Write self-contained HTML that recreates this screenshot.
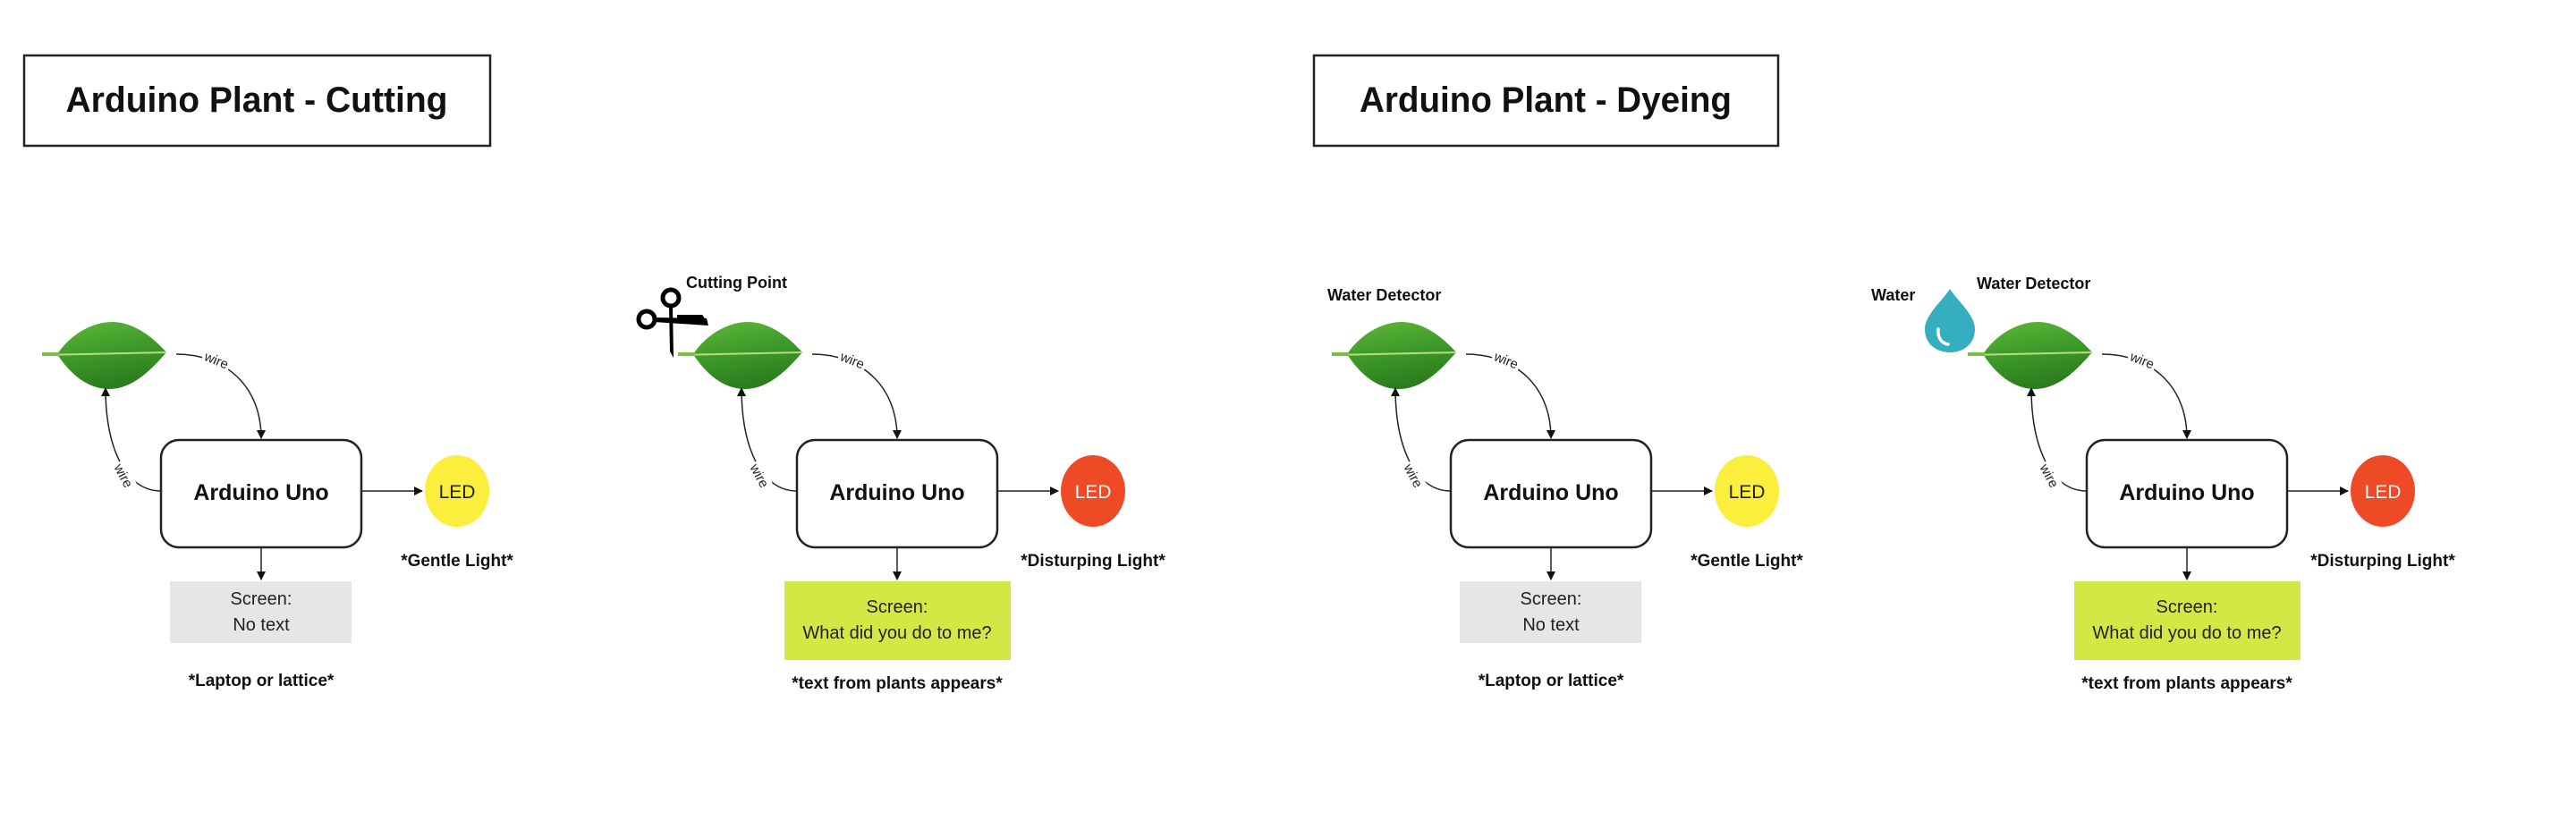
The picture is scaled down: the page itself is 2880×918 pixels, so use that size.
<!DOCTYPE html>
<html><head><meta charset="utf-8"><style>
html,body{margin:0;padding:0;background:#fff;}
svg{display:block;font-family:"Liberation Sans",sans-serif;}
</style></head><body>
<svg width="2880" height="918" viewBox="0 0 2880 918" xmlns="http://www.w3.org/2000/svg">
<defs>
<marker id="ar" markerWidth="10" markerHeight="10" refX="9" refY="5" orient="auto" markerUnits="userSpaceOnUse">
<path d="M0,0 L10,5 L0,10 Z" fill="#111"/></marker>
<linearGradient id="lg" x1="0" y1="0" x2="0.3" y2="1">
<stop offset="0" stop-color="#5fb83a"/><stop offset="0.5" stop-color="#3f9b2a"/><stop offset="1" stop-color="#2c7d1e"/></linearGradient>
<g id="leaf">
<path d="M64,396 C80,372 105,360 125,360 C150,360 172,378 186,394 C172,410 150,435 122,435 C98,435 78,418 64,396 Z" fill="url(#lg)"/>
<path d="M47,397 L186,394" stroke="#b8dc80" stroke-width="2" fill="none"/>
<path d="M47,396 L66,396" stroke="#7cbf45" stroke-width="4"/>
</g>
<g id="base">
<use href="#leaf"/>
<path d="M197,396 C250,396 292,430 292,490" fill="none" stroke="#222" stroke-width="1.5" marker-end="url(#ar)"/>
<rect x="226" y="394" width="32" height="18" fill="#fff" transform="rotate(22 242 403)"/>
<text x="242" y="408" font-size="15" text-anchor="middle" fill="#222" transform="rotate(22 242 403)">wire</text>
<path d="M180,549 C140,549 118,500 118,434" fill="none" stroke="#222" stroke-width="1.5" marker-end="url(#ar)"/>
<rect x="122" y="523" width="32" height="18" fill="#fff" transform="rotate(62 138 532)"/>
<text x="138" y="537" font-size="15" text-anchor="middle" fill="#222" transform="rotate(62 138 532)">wire</text>
<rect x="180" y="492" width="224" height="120" rx="20" fill="#fff" stroke="#222" stroke-width="2.5"/>
<text x="292" y="559" font-size="25" font-weight="bold" text-anchor="middle" fill="#111">Arduino Uno</text>
<path d="M404,549 L472,549" stroke="#222" stroke-width="1.5" marker-end="url(#ar)"/>
<path d="M292,612 L292,648" stroke="#222" stroke-width="1.5" marker-end="url(#ar)"/>
</g>
<g id="g1">
<ellipse cx="511" cy="549" rx="36" ry="40" fill="#fbee3c"/>
<text x="511" y="557" font-size="21" text-anchor="middle" fill="#222">LED</text>
<text x="511" y="633" font-size="19" font-weight="bold" text-anchor="middle" fill="#111">*Gentle Light*</text>
<rect x="190" y="650" width="203" height="69" fill="#e6e6e6"/>
<text x="292" y="676" font-size="20" text-anchor="middle" fill="#222">Screen:</text>
<text x="292" y="705" font-size="20" text-anchor="middle" fill="#222">No text</text>
<text x="292" y="767" font-size="19" font-weight="bold" text-anchor="middle" fill="#111">*Laptop or lattice*</text>
</g>
<g id="g2">
<ellipse cx="511" cy="549" rx="36" ry="40" fill="#ee4a26"/>
<text x="511" y="557" font-size="21" text-anchor="middle" fill="#fff">LED</text>
<text x="511" y="633" font-size="19" font-weight="bold" text-anchor="middle" fill="#111">*Disturping Light*</text>
<rect x="166" y="650" width="253" height="88" fill="#d2e845"/>
<text x="292" y="685" font-size="20" text-anchor="middle" fill="#222">Screen:</text>
<text x="292" y="714" font-size="20" text-anchor="middle" fill="#222">What did you do to me?</text>
<text x="292" y="770" font-size="19" font-weight="bold" text-anchor="middle" fill="#111">*text from plants appears*</text>
</g>
</defs>

<rect x="27" y="62" width="521" height="101" fill="#fff" stroke="#222" stroke-width="2.5"/>
<text x="287" y="125" font-size="40" font-weight="bold" text-anchor="middle" fill="#111" textLength="427" lengthAdjust="spacingAndGlyphs">Arduino Plant - Cutting</text>
<rect x="1469" y="62" width="519" height="101" fill="#fff" stroke="#222" stroke-width="2.5"/>
<text x="1728" y="125" font-size="40" font-weight="bold" text-anchor="middle" fill="#111" textLength="416" lengthAdjust="spacingAndGlyphs">Arduino Plant - Dyeing</text>

<!-- group 1 -->
<use href="#base"/><use href="#g1"/>

<!-- group 2 -->
<g transform="translate(711,0)">
<use href="#base"/><use href="#g2"/>
<text x="56" y="322" font-size="18" font-weight="bold" fill="#111">Cutting Point</text>
<!-- scissors -->
<circle cx="12" cy="357" r="9" fill="none" stroke="#000" stroke-width="5"/>
<circle cx="39" cy="333" r="9" fill="none" stroke="#000" stroke-width="5"/>
<path d="M37,342 L41,342 L42,400 L38,393 Z" fill="#000"/>
<path d="M20,355 L79,356 L81,364 L20,360 Z" fill="#000"/>
<path d="M46,352 L74,352 L80,360 L46,360 Z" fill="#000"/>
</g>

<!-- group 3 -->
<g transform="translate(1442,0)">
<use href="#base"/><use href="#g1"/>
<text x="42" y="336" font-size="18" font-weight="bold" fill="#111">Water Detector</text>
</g>

<!-- group 4 -->
<g transform="translate(2153,0)">
<use href="#base"/><use href="#g2"/>
<text x="-61" y="336" font-size="18" font-weight="bold" fill="#111">Water</text>
<text x="57" y="323" font-size="18" font-weight="bold" fill="#111">Water Detector</text>
<path d="M27,323 C35,336 55,352 55,368 C55,384 43,394 27,394 C11,394 -1,384 -1,368 C-1,352 19,336 27,323 Z" fill="#35aec0"/>
<path d="M14,368 C13,378 18,384 25,385" fill="none" stroke="#fff" stroke-width="3.5" stroke-linecap="round"/>
</g>
</svg>
</body></html>
